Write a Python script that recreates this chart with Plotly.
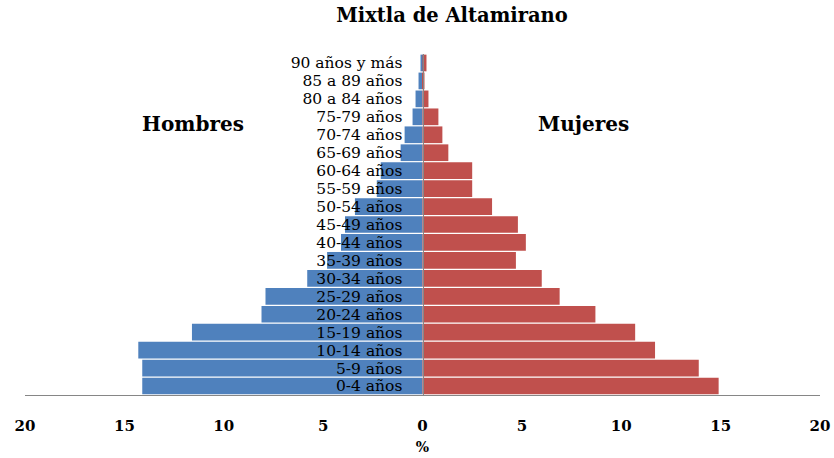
import plotly.graph_objects as go

categories = ["0-4 años", "5-9 años", "10-14 años", "15-19 años", "20-24 años",
              "25-29 años", "30-34 años", "35-39 años", "40-44 años", "45-49 años",
              "50-54 años", "55-59 años", "60-64 años", "65-69 años", "70-74 años",
              "75-79 años", "80 a 84 años", "85 a 89 años", "90 años y más"]
hombres = [14.1, 14.1, 14.3, 11.6, 8.1, 7.9, 5.8, 4.8, 4.1, 3.9,
           3.4, 2.3, 2.1, 1.1, 0.9, 0.5, 0.35, 0.2, 0.1]
mujeres = [14.9, 13.9, 11.7, 10.7, 8.7, 6.9, 6.0, 4.7, 5.2, 4.8,
           3.5, 2.5, 2.5, 1.3, 1.0, 0.8, 0.3, 0.1, 0.2]
tick_vals = [-20, -15, -10, -5, 0, 5, 10, 15, 20]
tick_text = ["20", "15", "10", "5", "0", "5", "10", "15", "20"]

SERIF = "DejaVu Serif"

fig = go.Figure()
fig.add_trace(go.Bar(y=categories, x=[-v for v in hombres], orientation="h",
                     name="Hombres", marker=dict(color="#4F81BD", line=dict(width=0))))
fig.add_trace(go.Bar(y=categories, x=mujeres, orientation="h",
                     name="Mujeres", marker=dict(color="#C0504D", line=dict(width=0))))

fig.update_layout(
    width=834, height=458,
    margin=dict(l=25, r=14, t=54, b=63),
    paper_bgcolor="white", plot_bgcolor="white",
    barmode="overlay", bargap=0.07,
    showlegend=False,
    title=dict(text="<b>Mixtla de Altamirano</b>", x=452/834, xref="container",
               xanchor="center", y=1 - 15/458, yref="container", yanchor="middle",
               font=dict(family=SERIF, size=19.5, color="#000000")),
    xaxis=dict(range=[-20, 20], tickvals=tick_vals, ticktext=tick_text,
               automargin=False,
               showgrid=False, zeroline=False, showline=True, linecolor="#868686",
               linewidth=1, ticks="", ticklabelstandoff=17,
               tickfont=dict(family=SERIF, size=15, color="#000000", weight="bold"),
               title=dict(text="<b>%</b>", standoff=8,
                          font=dict(family=SERIF, size=14, color="#000000"))),
    yaxis=dict(anchor="free", position=0.5, showline=True, linecolor="#868686",
               automargin=False,
               linewidth=1, showgrid=False, zeroline=False, ticks="",
               tickmode="array", tickvals=categories,
               ticklabelstandoff=17, range=[-0.5, 18.5],
               tickfont=dict(family=SERIF, size=15.5, color="#000000")),
    annotations=[
        dict(text="<b>Hombres</b>", x=-11.55, xref="x", y=(395-110)/341, yref="paper",
             showarrow=False, font=dict(family=SERIF, size=20, color="#000000")),
        dict(text="<b>Mujeres</b>", x=8.08, xref="x", y=(395-110)/341, yref="paper",
             showarrow=False, font=dict(family=SERIF, size=20, color="#000000")),
    ],
)

fig.write_html("out.html", config={"displayModeBar": False},
               post_script="document.body.style.margin='0';document.body.style.overflow='hidden';")
